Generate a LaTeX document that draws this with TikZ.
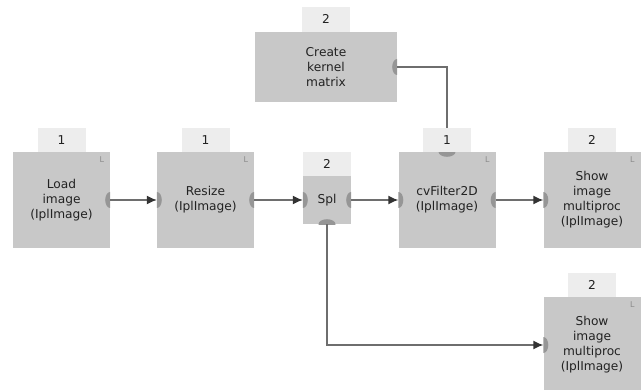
\documentclass[tikz,border=0pt]{standalone}
\usepackage{fontspec}
\usetikzlibrary{arrows.meta}
\newfontfamily\dv{DejaVu Sans}
\definecolor{boxc}{HTML}{C8C8C8}
\definecolor{tabc}{HTML}{EDEDED}
\definecolor{portc}{HTML}{969696}
\definecolor{linec}{HTML}{6E6E6E}
\definecolor{arrc}{HTML}{333333}
\definecolor{txtc}{HTML}{222222}
\definecolor{lc}{HTML}{8C8C8C}
\newcommand\portmark[4]{%
  \begin{scope}
    \clip (#1.south west) rectangle (#1.north east);
    \fill[portc] (#1.#2) ellipse [x radius=#3, y radius=#4];
  \end{scope}}
\begin{document}
\begin{tikzpicture}[x=1pt,y=-1pt,
  blk/.style={fill=boxc, inner sep=0, minimum width=97, minimum height=96,
    align=center, font=\dv\fontsize{12.2}{15}\selectfont, text=txtc},
  tabbox/.style={fill=tabc, inner sep=0, minimum width=48, minimum height=24,
    anchor=south, font=\dv\fontsize{12.2}{13}\selectfont, text=txtc},
  lmark/.style={anchor=north east, inner sep=0, text=lc, font=\dv\fontsize{8}{8}\selectfont},
  conn/.style={draw=linec, line width=1.4pt,
    -{Latex[length=10pt,width=9pt,color=arrc,fill=arrc]}},
  connplain/.style={draw=linec, line width=1.4pt}]
\useasboundingbox (0,0) rectangle (643,390);

% boxes
\node[blk] (load) at (61.5,200) {Load\\image\\(IplImage)};
\node[blk] (resize) at (205.5,200) {Resize\\(IplImage)};
\node[blk, minimum width=48, minimum height=48] (spl) at (327,200) {Spl};
\node[blk, minimum width=142, minimum height=70] (kernel) at (326,67) {Create\\kernel\\matrix};
\node[blk] (cv) at (447,200) {cvFilter2D\\(IplImage)};
\node[blk] (show1) at (592,200) {Show\\image\\multiproc\\(IplImage)};
\node[blk] (show2) at (592,345) {Show\\image\\multiproc\\(IplImage)};

% L marks
\node[lmark] (l1) at ([shift={(-6,5)}]load.north east) {L};
\node[lmark] (l2) at ([shift={(-6,5)}]resize.north east) {L};
\node[lmark] (l3) at ([shift={(-6,5)}]cv.north east) {L};
\node[lmark] (l4) at ([shift={(-6,5)}]show1.north east) {L};
\node[lmark] (l5) at ([shift={(-6,5)}]show2.north east) {L};

% ports
\portmark{load}{east}{5}{8}
\portmark{resize}{west}{5}{8}
\portmark{resize}{east}{5}{8}
\portmark{spl}{west}{5}{8}
\portmark{spl}{east}{5}{8}
\portmark{spl}{south}{8.5}{5}
\portmark{kernel}{east}{5}{8}
\portmark{cv}{north}{8.5}{5}
\portmark{cv}{west}{5}{8}
\portmark{cv}{east}{5}{8}
\portmark{show1}{west}{5}{8}
\portmark{show2}{west}{5}{8}

% connectors
\draw[conn] (load.east) -- (resize.west);
\draw[conn] (resize.east) -- (spl.west);
\draw[conn] (spl.east) -- (cv.west);
\draw[conn] (cv.east) -- (show1.west);
\draw[conn] (spl.south) |- (show2.west);
\draw[connplain] (kernel.east) -| (cv.north);

% tabs
\node[tabbox] (t1) at (load.north) {1};
\node[tabbox] (t2) at (resize.north) {1};
\node[tabbox] (t3) at (spl.north) {2};
\node[tabbox, minimum height=25] (t4) at (kernel.north) {2};
\node[tabbox] (t5) at (cv.north) {1};
\node[tabbox] (t6) at (show1.north) {2};
\node[tabbox] (t7) at (show2.north) {2};
\end{tikzpicture}
\end{document}
